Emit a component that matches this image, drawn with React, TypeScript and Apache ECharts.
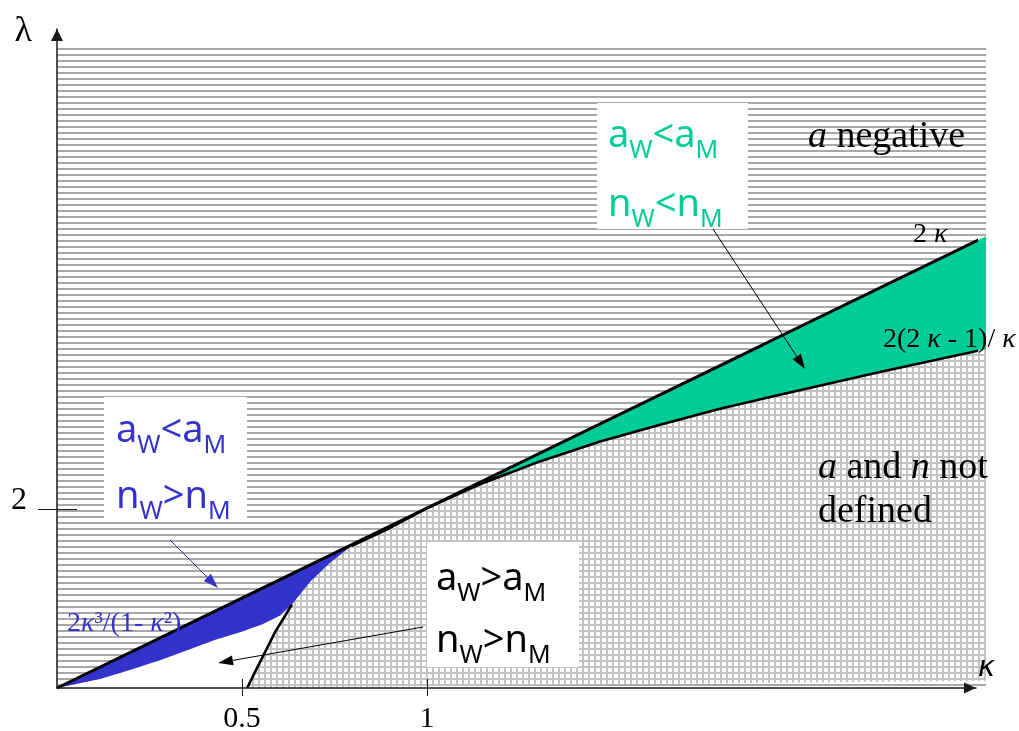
import React, { useEffect, useRef } from 'react';
import * as echarts from 'echarts';

// ---- axis ticks ----
const xTickValues = [0.5, 1];
const xTickLabels = ['0.5', '1'];
const yTickValues = [2];
const yTickLabels = ['2'];

// ---- plotted extent (κ, λ) ----
const xAxisMax = 2.4838;
const yAxisMax = 7.3667;
const hatchRight = 2.511;
const hatchTop = 7.156;

// ---- curves, as [κ, λ] ----
// straight line λ = 2κ
const twoKappaLine = [
  [0, 0],
  [2.511, 5.05],
];
// boundary of the "a and n not defined" region, from κ = 0.5 on the axis
const boundaryCurve = [
  [0.514, 0],
  [0.535, 0.178],
  [0.557, 0.356],
  [0.589, 0.622],
  [0.635, 0.933],
  [0.684, 1.189],
  [0.738, 1.4],
  [0.797, 1.589],
];
// λ = 2(2κ − 1)/κ
const lowerCurve = [
  [0.797, 1.589],
  [0.9, 1.789],
  [1.0, 2.011],
  [1.143, 2.278],
  [1.305, 2.533],
  [1.468, 2.756],
  [1.63, 2.944],
  [1.792, 3.122],
  [1.954, 3.278],
  [2.224, 3.533],
  [2.511, 3.789],
];
// λ = 2κ³/(1 − κ²)
const blueCurve = [
  [0, 0],
  [0.116, 0.1],
  [0.197, 0.2],
  [0.286, 0.322],
  [0.359, 0.433],
  [0.432, 0.544],
  [0.495, 0.622],
  [0.554, 0.711],
  [0.603, 0.811],
  [0.635, 0.933],
];

const GREEN = '#00CC99';
const BLUE = '#3333CC';

function makePattern(kind: 'h' | 'grid') {
  const c = document.createElement('canvas');
  c.width = 6;
  c.height = 6;
  const ctx = c.getContext('2d')!;
  ctx.fillStyle = '#ffffff';
  ctx.fillRect(0, 0, 6, 6);
  if (kind === 'h') {
    ctx.fillStyle = '#a8a8a8';
    ctx.fillRect(0, 0, 6, 2);
  } else {
    ctx.fillStyle = '#c2c2c2';
    ctx.fillRect(0, 0, 6, 2);
    ctx.fillRect(0, 0, 2, 6);
  }
  return { image: c.toDataURL(), repeat: 'repeat', imageWidth: 6, imageHeight: 6 } as any;
}

function arrow(x1: number, y1: number, x2: number, y2: number, color: string, len = 15, w = 10) {
  const dx = x2 - x1;
  const dy = y2 - y1;
  const L = Math.hypot(dx, dy);
  const ux = dx / L;
  const uy = dy / L;
  const bx = x2 - ux * len;
  const by = y2 - uy * len;
  const px = (-uy * w) / 2;
  const py = (ux * w) / 2;
  return [
    { type: 'line', z: 70, silent: true, shape: { x1, y1, x2: bx, y2: by }, style: { stroke: color, lineWidth: 1 } },
    {
      type: 'polygon',
      z: 70,
      silent: true,
      shape: { points: [[x2, y2], [bx + px, by + py], [bx - px, by - py]] },
      style: { fill: color },
    },
  ];
}

const SANS = 'Noto Sans';
const SERIF = 'Liberation Serif';

function sansRich(color: string) {
  return {
    m: { fontFamily: SANS, fontSize: 38, fill: color, lineHeight: 44, verticalAlign: 'middle' },
    s: { fontFamily: SANS, fontSize: 25, fill: color, lineHeight: 44, verticalAlign: 'middle', padding: [32, 0, 0, 0] },
  };
}

function sansLabel(text: string, x: number, baseline: number, color: string) {
  return {
    type: 'text',
    z: 60,
    silent: true,
    x,
    y: baseline - 14.7,
    style: { text, rich: sansRich(color), align: 'left', verticalAlign: 'middle', fill: color },
  };
}

function serifLabel(text: string, x: number, baseline: number, size: number, color = '#000') {
  return {
    type: 'text',
    z: 60,
    silent: true,
    x,
    y: baseline - 0.3375 * size,
    style: {
      text,
      fontFamily: SERIF,
      fontSize: size,
      fill: color,
      align: 'left',
      verticalAlign: 'middle',
      rich: {
        i: { fontFamily: SERIF, fontSize: size, fontStyle: 'italic', fill: color, verticalAlign: 'middle' },
        r: { fontFamily: SERIF, fontSize: size, fill: color, verticalAlign: 'middle' },
      },
    },
  };
}

export default function App() {
  const ref = useRef<HTMLDivElement>(null);

  useEffect(() => {
    if (!ref.current) return;
    const chart = echarts.init(ref.current, null, { renderer: 'svg' });

    const hFill = makePattern('h');
    const gFill = makePattern('grid');

    const regions = [
      { points: [[0, 0], [hatchRight, 0], [hatchRight, hatchTop], [0, hatchTop]], fill: hFill },
      { points: [...boundaryCurve, ...lowerCurve.slice(1), [hatchRight, 0.08]], fill: gFill },
      { points: [...blueCurve, ...boundaryCurve.slice(0, 5).reverse()], fill: '#ffffff' },
      {
        points: [twoKappaLine[0], ...boundaryCurve.slice(4).reverse(), ...blueCurve.slice().reverse()],
        fill: BLUE,
      },
      { points: [...lowerCurve.slice(2), twoKappaLine[1]], fill: GREEN },
    ];

    const labelOf = (vals: number[], labels: string[]) => (v: number) => {
      const i = vals.findIndex((t) => Math.abs(t - v) < 1e-6);
      return i >= 0 ? labels[i] : '';
    };

    const axisLineStyle = { color: '#1a1a1a', width: 1.5 };

    const option: any = {
      animation: false,
      grid: { left: 57, top: 29, right: 1019 - 976, bottom: 731 - 692, containLabel: false },
      xAxis: [
        {
          type: 'value',
          z: 10,
          min: 0,
          max: xAxisMax,
          position: 'bottom',
          axisLine: {
            show: true,
            onZero: false,
            lineStyle: axisLineStyle,
            symbol: ['none', 'triangle'],
            symbolSize: [11, 12],
            symbolOffset: [0, -6],
          },
          axisTick: { show: true, customValues: xTickValues, length: 8, lineStyle: { color: '#1a1a1a', width: 1 } },
          axisLabel: {
            show: true,
            customValues: xTickValues,
            formatter: labelOf(xTickValues, xTickLabels),
            fontFamily: SERIF,
            fontSize: 30,
            lineHeight: 30,
            color: '#000',
            margin: 13,
          },
          splitLine: { show: false },
          name: 'κ',
          nameLocation: 'end',
          nameGap: 2,
          nameTextStyle: {
            fontFamily: 'DejaVu Sans',
            fontStyle: 'italic',
            fontSize: 29,
            color: '#000',
            align: 'left',
            verticalAlign: 'bottom',
            lineHeight: 44,
          },
        },
        {
          type: 'value',
          z: 10,
          min: 0,
          max: xAxisMax,
          position: 'bottom',
          axisLine: { show: false, onZero: false },
          axisTick: { show: true, inside: true, customValues: xTickValues, length: 9, lineStyle: { color: '#1a1a1a', width: 1 } },
          axisLabel: { show: false },
          splitLine: { show: false },
        },
      ],
      yAxis: [
        {
          type: 'value',
          z: 10,
          min: 0,
          max: yAxisMax,
          position: 'left',
          axisLine: {
            show: true,
            onZero: false,
            lineStyle: axisLineStyle,
            symbol: ['none', 'triangle'],
            symbolSize: [12, 12],
            symbolOffset: [0, -6],
          },
          axisTick: { show: true, customValues: yTickValues, length: 19, lineStyle: { color: '#1a1a1a', width: 1 } },
          axisLabel: {
            show: true,
            customValues: yTickValues,
            formatter: labelOf(yTickValues, yTickLabels),
            fontFamily: SERIF,
            fontSize: 32,
            lineHeight: 22,
            verticalAlign: 'bottom',
            color: '#000',
            margin: 30,
          },
          splitLine: { show: false },
          name: 'λ',
          nameLocation: 'end',
          nameGap: 0,
          nameTextStyle: {
            fontFamily: SERIF,
            fontSize: 36,
            color: '#000',
            align: 'right',
            verticalAlign: 'middle',
            padding: [0, 25, 0, 0],
          },
        },
        {
          type: 'value',
          z: 10,
          min: 0,
          max: yAxisMax,
          position: 'left',
          axisLine: { show: false, onZero: false },
          axisTick: { show: true, inside: true, customValues: yTickValues, length: 20, lineStyle: { color: '#1a1a1a', width: 1 } },
          axisLabel: { show: false },
          splitLine: { show: false },
        },
      ],
      series: [
        {
          type: 'custom',
          coordinateSystem: 'cartesian2d',
          xAxisIndex: 0,
          yAxisIndex: 0,
          clip: false,
          silent: true,
          z: 1,
          data: regions.map(() => [0, 0]),
          renderItem: (params: any, api: any) => {
            const r = regions[params.dataIndex];
            return {
              type: 'polygon',
              shape: { points: r.points.map((p) => api.coord(p)) },
              style: { fill: r.fill, stroke: 'none' },
            };
          },
        },
        {
          type: 'line',
          data: boundaryCurve.slice(0, 5),
          symbol: 'none',
          clip: false,
          silent: true,
          z: 4,
          lineStyle: { color: '#000', width: 2.6 },
        },
        {
          type: 'line',
          data: lowerCurve,
          symbol: 'none',
          clip: false,
          silent: true,
          z: 4,
          lineStyle: { color: '#000', width: 2.6 },
        },
        {
          type: 'line',
          data: twoKappaLine,
          symbol: 'none',
          clip: false,
          silent: true,
          z: 5,
          lineStyle: { color: '#000', width: 3 },
        },
      ],
      graphic: [
        { type: 'rect', z: 50, silent: true, shape: { x: 597, y: 103, width: 151, height: 126 }, style: { fill: '#fff' } },
        { type: 'rect', z: 50, silent: true, shape: { x: 104, y: 397, width: 143, height: 125 }, style: { fill: '#fff' } },
        { type: 'rect', z: 50, silent: true, shape: { x: 427, y: 542, width: 152, height: 125 }, style: { fill: '#fff' } },
        sansLabel('{m|a}{s|W}{m|<a}{s|M}', 608, 147, GREEN),
        sansLabel('{m|n}{s|W}{m|<n}{s|M}', 608, 216, GREEN),
        sansLabel('{m|a}{s|W}{m|<a}{s|M}', 116, 442, BLUE),
        sansLabel('{m|n}{s|W}{m|>n}{s|M}', 116, 508, BLUE),
        sansLabel('{m|a}{s|W}{m|>a}{s|M}', 436, 590, '#000'),
        sansLabel('{m|n}{s|W}{m|>n}{s|M}', 436, 652, '#000'),
        serifLabel('{i|a}{r| negative}', 808, 147, 38),
        serifLabel('{i|a}{r| and }{i|n}{r| not}', 818, 478, 38),
        serifLabel('{r|defined}', 818, 522, 38),
        serifLabel('{r|2 }{i|κ}', 913, 242, 28),
        serifLabel('{r|2(2 }{i|κ}{r| - 1)/ }{i|κ}', 883, 347, 28),
        serifLabel('{r|2}{i|κ}{r|³/(1- }{i|κ}{r|²)}', 67, 631, 28, BLUE),
        ...arrow(713, 229, 805, 369, '#000'),
        ...arrow(170, 540, 218, 588, BLUE),
        ...arrow(423, 627, 218, 663, '#000'),
      ],
    };

    chart.setOption(option);
    return () => chart.dispose();
  }, []);

  return <div ref={ref} style={{ position: 'fixed', left: 0, top: 0, width: 1019, height: 731 }} />;
}
